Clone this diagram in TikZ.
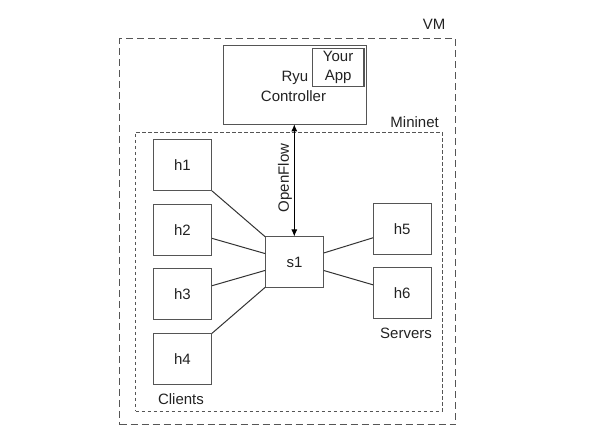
\documentclass[tikz,border=0pt]{standalone}
\usepackage{fontspec}
\setmainfont{Liberation Sans}
\usetikzlibrary{arrows.meta}
\definecolor{boxc}{HTML}{555555}
\definecolor{txt}{HTML}{222222}
\begin{document}
\begin{tikzpicture}[x=1pt,y=-1pt,
  every node/.style={font=\fontsize{15}{17}\selectfont, text=txt},
  hostbox/.style={draw=boxc, line width=1pt, minimum width=58pt, minimum height=51pt, inner sep=0pt},
  vmline/.style={draw=boxc, line width=1.1pt, dash pattern=on 7pt off 4pt},
  mnline/.style={draw=boxc, line width=1pt, dash pattern=on 3.5pt off 2.5pt},
  link/.style={draw=black!80, line width=1pt}]
\useasboundingbox (0,0) rectangle (598,435);
% VM
\node[vmline, minimum width=336pt, minimum height=386pt, inner sep=0pt, anchor=north west] (vm) at (119,38.3) {};
\node[anchor=east] (vmlabel) at (449,24.5) {VM};
% Controller
\node[draw=boxc, line width=1.1pt, minimum width=142.4pt, minimum height=79.3pt, inner sep=0pt, anchor=north west] (ctrl) at (223.3,45) {};
\node[draw=boxc, line width=1.3pt, minimum width=51.6pt, minimum height=38.3pt, inner sep=0pt, anchor=north west] (app) at (311.7,47.7) {};
\node[align=center, inner sep=0pt] (apptext) at (app.center) {Your\\[2.5pt]App};
\node[anchor=east, inner sep=0pt] (ryu) at (308.5,78) {Ryu};
\node[inner sep=0pt] (ctrltext) at (293.5,96.5) {Controller};
% Mininet
\node[mnline, minimum width=306.7pt, minimum height=279pt, inner sep=0pt, anchor=north west] (mn) at (135,131.7) {};
\node[anchor=east, inner sep=0pt] (mnlabel) at (439,122.5) {Mininet};
% Hosts
\node[hostbox] (h1) at (182.5,165.5) {h1};
\node[hostbox] (h2) at (182.5,229.9) {h2};
\node[hostbox] (h3) at (182.5,294.2) {h3};
\node[hostbox] (h4) at (182.5,358.8) {h4};
\node[hostbox, minimum width=57.6pt] (s1) at (294.5,262) {s1};
\node[hostbox, minimum width=57.6pt] (h5) at (402.2,228.8) {h5};
\node[hostbox, minimum width=57.6pt] (h6) at (402.2,293.3) {h6};
\node[inner sep=0pt] (clients) at (181,399.5) {Clients};
\node[inner sep=0pt] (servers) at (406,333) {Servers};
% Links
\draw[link] (h1) -- (s1);
\draw[link] (h2) -- (s1);
\draw[link] (h3) -- (s1);
\draw[link] (h4) -- (s1);
\draw[link] (h5) -- (s1);
\draw[link] (h6) -- (s1);
% OpenFlow
\coordinate (oftop) at (294.3,124.3);
\coordinate (ofbot) at (294.3,236.5);
\draw[line width=1pt, black, {Latex[length=7pt,width=6pt]}-{Latex[length=7pt,width=6pt]}] (oftop) -- (ofbot);
\node[rotate=90, inner sep=0pt] (of) at (285,178) {OpenFlow};
\end{tikzpicture}
\end{document}
